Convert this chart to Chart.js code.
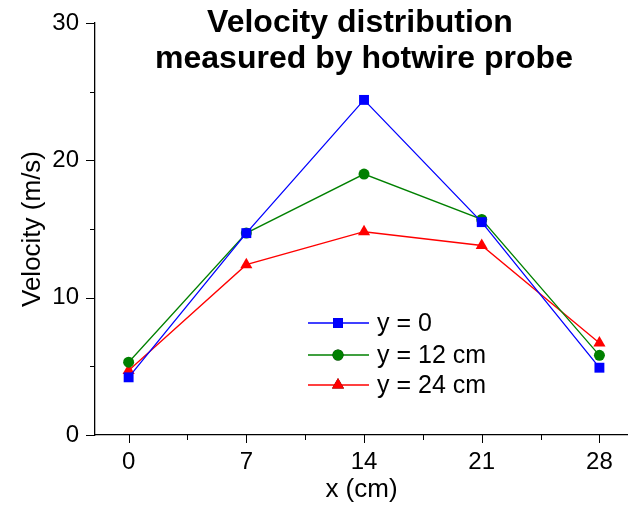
<!DOCTYPE html>
<html lang="en">
<head>
    <meta charset="UTF-8">
    <title>Velocity distribution</title>
    <script src="https://cdn.jsdelivr.net/npm/chart.js"></script>
    <style>
        html, body { margin: 0; padding: 0; background: #fff; }
        #wrap { width: 628px; height: 505px; position: relative; }
    </style>
</head>
<body>
    <div id="wrap">
        <canvas id="myChart" width="628" height="505"></canvas>
    </div>
<script>
    // data
    const xPos = [0, 7, 14, 21, 28];
    const yZero = [4.2, 14.7, 24.4, 15.5, 4.9];
    const y12cm = [5.3, 14.7, 19.0, 15.7, 5.8];
    const y24cm = [4.7, 12.4, 14.8, 13.8, 6.7];
    const xTicks = [0, 7, 14, 21, 28];
    const yTicks = [0, 10, 20, 30];
    const seriesNames = ["y = 0", "y = 12 cm", "y = 24 cm"];
    const titleLines = ["Velocity distribution", "measured by hotwire probe"];

    const font = "'Liberation Sans', Arial, sans-serif";

    function pts(ys) {
        return xPos.map((x, i) => ({ x: x, y: ys[i] }));
    }

    // ticks (major + minor, outward) drawn from the scales
    const tickPlugin = {
        id: 'ticks',
        afterDraw(chart) {
            const c = chart.ctx;
            const xs = chart.scales.x, ys = chart.scales.y;
            const bottom = ys.getPixelForValue(0);
            const left = xs.left;
            c.save();
            c.strokeStyle = '#000';
            c.lineWidth = 1;
            for (let v = 0; v <= 28; v += 3.5) {
                const px = Math.round(xs.getPixelForValue(v)) + 0.5;
                const len = (v % 7 === 0) ? 8 : 5;
                c.beginPath();
                c.moveTo(px, bottom);
                c.lineTo(px, bottom + len);
                c.stroke();
            }
            for (let v = 0; v <= 30; v += 5) {
                const py = Math.round(ys.getPixelForValue(v)) + 0.5;
                const len = (v % 10 === 0) ? 9 : 5;
                c.beginPath();
                c.moveTo(left, py);
                c.lineTo(left - len, py);
                c.stroke();
            }
            c.restore();
        }
    };

    // title and legend sit inside the plot
    const overlayPlugin = {
        id: 'overlay',
        afterDraw(chart) {
            const c = chart.ctx;
            c.save();
            c.fillStyle = '#000';
            c.textAlign = 'center';
            c.textBaseline = 'alphabetic';
            c.font = "bold 32px " + font;
            c.fillText(titleLines[0], 360, 32);
            c.fillText(titleLines[1], 364, 68);

            const rows = [323, 355, 385];
            chart.data.datasets.forEach((ds, i) => {
                const y = rows[i];
                c.strokeStyle = ds.borderColor;
                c.lineWidth = 1.3;
                c.beginPath();
                c.moveTo(308, y);
                c.lineTo(369, y);
                c.stroke();
                Chart.helpers.drawPoint(c, {
                    pointStyle: ds.pointStyle,
                    radius: ds.pointRadius,
                    rotation: 0,
                    borderWidth: 0
                }, 338, y);
                c.fillStyle = ds.backgroundColor;
                c.fill();
                c.fillStyle = '#000';
                c.textAlign = 'left';
                c.textBaseline = 'middle';
                c.font = "25px " + font;
                c.fillText(seriesNames[i], 377, y + 1);
            });
            c.restore();
        }
    };

    function makeSet(label, ys, color, style, r) {
        return {
            label: label,
            data: pts(ys),
            borderColor: color,
            backgroundColor: color,
            borderWidth: 1.3,
            pointStyle: style,
            pointRadius: r,
            pointHoverRadius: r,
            pointBorderWidth: 0,
            showLine: true,
            tension: 0
        };
    }

    const ctx = document.getElementById('myChart');
    new Chart(ctx, {
        type: 'scatter',
        data: {
            datasets: [
                makeSet(seriesNames[0], yZero, '#0000ff', 'rect', 7),
                makeSet(seriesNames[1], y12cm, '#008000', 'circle', 5.5),
                makeSet(seriesNames[2], y24cm, '#ff0000', 'triangle', 7)
            ]
        },
        options: {
            responsive: false,
            animation: false,
            devicePixelRatio: 1,
            layout: { autoPadding: false, padding: { top: 23, right: 0, left: 0, bottom: 0 } },
            plugins: {
                legend: { display: false },
                title: { display: false },
                tooltip: { enabled: false }
            },
            scales: {
                x: {
                    type: 'linear',
                    min: -2,
                    max: 29.7,
                    afterBuildTicks(scale) { scale.ticks = xTicks.map(v => ({ value: v })); },
                    afterFit(scale) {
                        scale.height = 70;
                        scale.paddingRight = 0;
                        scale.paddingLeft = 0;
                    },
                    grid: { display: false, drawTicks: false },
                    border: { display: true, color: '#000', width: 1.3 },
                    ticks: { color: '#000', padding: 13, font: { family: font, size: 24 } },
                    title: {
                        display: true,
                        text: 'x (cm)',
                        color: '#000',
                        font: { family: font, size: 26 },
                        padding: { top: 0, bottom: 0 }
                    }
                },
                y: {
                    min: 0,
                    max: 30,
                    afterBuildTicks(scale) { scale.ticks = yTicks.map(v => ({ value: v })); },
                    afterFit(scale) {
                        scale.width = 95;
                        scale.paddingTop = 0;
                        scale.paddingBottom = 0;
                    },
                    grid: { display: false, drawTicks: false },
                    border: { display: true, color: '#000', width: 1.3 },
                    ticks: { color: '#000', padding: 16, font: { family: font, size: 24 } },
                    title: {
                        display: true,
                        text: 'Velocity (m/s)',
                        color: '#000',
                        font: { family: font, size: 26 },
                        padding: { top: 17, bottom: 0 }
                    }
                }
            }
        },
        plugins: [tickPlugin, overlayPlugin]
    });
</script>
</body>
</html>
